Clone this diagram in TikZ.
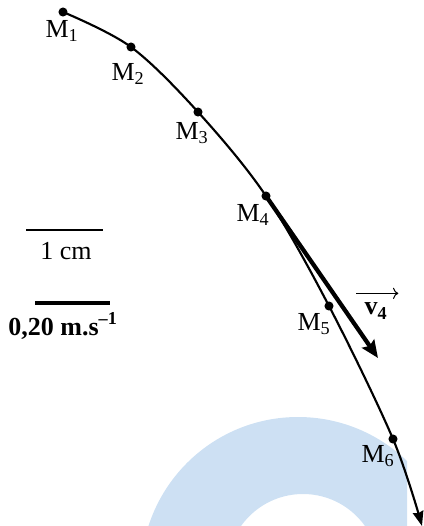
\documentclass[tikz,border=0pt]{standalone}
\usepackage{fontspec}
\setmainfont{Liberation Serif}
\usetikzlibrary{arrows.meta,calc,positioning}
\definecolor{chink}{HTML}{000000}
\definecolor{chwater}{HTML}{CDE0F3}
\tikzset{
  traj/.style={draw=chink,line width=1.6pt,-{Stealth[length=11pt,width=8pt,inset=1pt]}},
  vecarrow/.style={draw=chink,line width=3.2pt,-{Stealth[length=13pt,width=11pt,inset=2pt]}},
  ptdot/.style={fill=chink},
  ptlabel/.style={font=\fontsize{19.5}{22}\selectfont,text=chink,inner sep=0pt},
  scalelbl/.style={font=\fontsize{19.5}{22}\selectfont,text=chink,inner sep=0pt},
  thinbar/.style={draw=chink,line width=1.6pt},
  thickbar/.style={draw=chink,line width=3.6pt},
  smallarrow/.style={draw=chink,line width=.8pt,-{To[length=4pt]}},
}

\begin{document}
\begin{tikzpicture}[x=0.75pt,y=-0.75pt]
  \useasboundingbox (0,0) rectangle (424,526);

  % ---------------- watermark ring ----------------
  \begin{scope}
    \clip (0,0) rectangle (407,526);
    \fill[chwater,even odd rule] (298,574) circle (117.75pt) (303,570) circle (57pt);
  \end{scope}

  % ---------------- positions ----------------
  \coordinate (M1) at (63,12);
  \coordinate (M2) at (131,47);
  \coordinate (M3) at (198,112);
  \coordinate (M4) at (266,196);
  \coordinate (M5) at (329,306);
  \coordinate (M6) at (393,439);
  \coordinate (trajend) at (422,526);
  \coordinate (v4tip) at (378,358);

  % trajectory
  \draw[traj] plot[smooth,tension=.55] coordinates {(M1) (M2) (M3) (M4) (M5) (M6) (trajend)};

  % velocity vector at M4
  \draw[vecarrow] (M4) -- (v4tip);

  % points and labels
  \foreach \p/\lx/\ly/\n in {M1/62/31/1, M2/128/74/2, M3/192/133/3, M4/253/215/4, M5/314/324/5, M6/378/456/6}{
    \fill[ptdot] (\p) circle (3.4pt);
    \node[ptlabel] (l\p) at (\lx,\ly) {M\textsubscript{\n}};
  }

  % vector name
  \node[ptlabel,font=\fontsize{19.5}{22}\selectfont\bfseries] (lv4) at (376,311) {v\textsubscript{4}};
  \draw[smallarrow] ([xshift=-6pt,yshift=7pt]lv4.north west) -- ([xshift=8pt,yshift=7pt]lv4.north east);

  % ---------------- scales ----------------
  \draw[thinbar] (26,230) -- (103,230);
  \node[scalelbl] (lcm) at (66,251) {1 cm};
  \draw[thickbar] (35,303) -- (110,303);
  \node[scalelbl,font=\fontsize{19.5}{22}\selectfont\bfseries] (lspeed) at (63,326) {0,20 m.s\textsuperscript{–1}};
\end{tikzpicture}
\end{document}
